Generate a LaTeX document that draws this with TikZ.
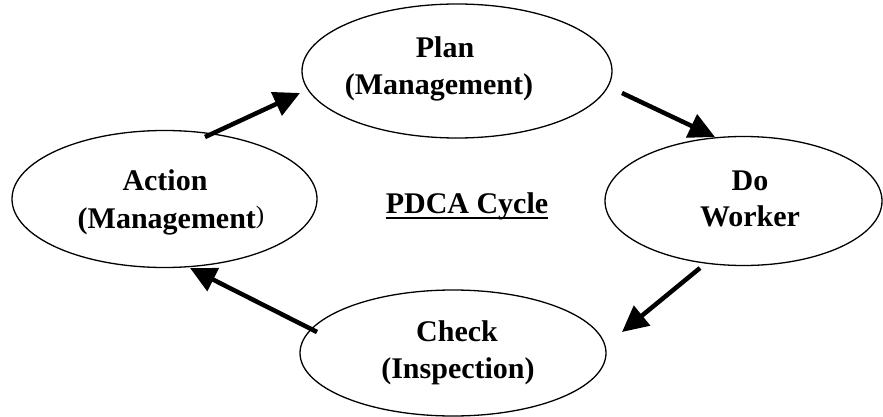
\documentclass[tikz,border=0pt]{standalone}
\usepackage{fontspec}
\setmainfont{Liberation Serif}
\usetikzlibrary{shapes.geometric,arrows.meta}
\begin{document}
\begin{tikzpicture}[x=1pt,y=-1pt,
  oval/.style={ellipse,draw,line width=1.3pt,inner sep=0pt,outer sep=0pt},
  lbl/.style={anchor=base,inner sep=0pt,font=\fontsize{30}{32}\selectfont\bfseries},
  flow/.style={line width=4.5pt,-{Triangle[length=26pt,width=25pt]}}]
\useasboundingbox (0,0) rectangle (883,417);
% ellipses
\node[oval,minimum width=310pt,minimum height=134pt] (plan) at (457,71) {};
\node[oval,minimum width=277pt,minimum height=129pt] (do) at (743.5,201) {};
\node[oval,minimum width=306pt,minimum height=126pt] (check) at (453,353) {};
\node[oval,minimum width=305pt,minimum height=137pt] (action) at (164.5,199) {};
% texts
\node[lbl] (plan1) at (445,58) {Plan};
\node[lbl] (plan2) at (439,95) {(Management)};
\node[lbl] (do1) at (750,190) {Do};
\node[lbl] (do2) at (750,226) {Worker};
\node[lbl] (check1) at (457,341) {Check};
\node[lbl] (check2) at (458,378) {(Inspection)};
\node[lbl] (action1) at (165,190) {Action};
\node[lbl] (action2) at (171,228) {(Management\raisebox{5pt}{\fontsize{25}{27}\selectfont\mdseries )}};
\node[lbl] (pdca) at (467,213) {PDCA Cycle};
\draw[line width=2pt] ([yshift=-4.5pt]pdca.base west) -- ([yshift=-4.5pt]pdca.base east);
% arrow end points
\coordinate (a1s) at (205,137);
\coordinate (a1e) at (300,93);
\coordinate (a2s) at (622,93);
\coordinate (a2e) at (715,137);
\coordinate (a3s) at (700,268);
\coordinate (a3e) at (622,332);
\coordinate (a4s) at (317,332);
\coordinate (a4e) at (190,268);
\draw[flow] (a1s) -- (a1e);
\draw[flow] (a2s) -- (a2e);
\draw[flow] (a3s) -- (a3e);
\draw[flow] (a4s) -- (a4e);
\end{tikzpicture}
\end{document}
